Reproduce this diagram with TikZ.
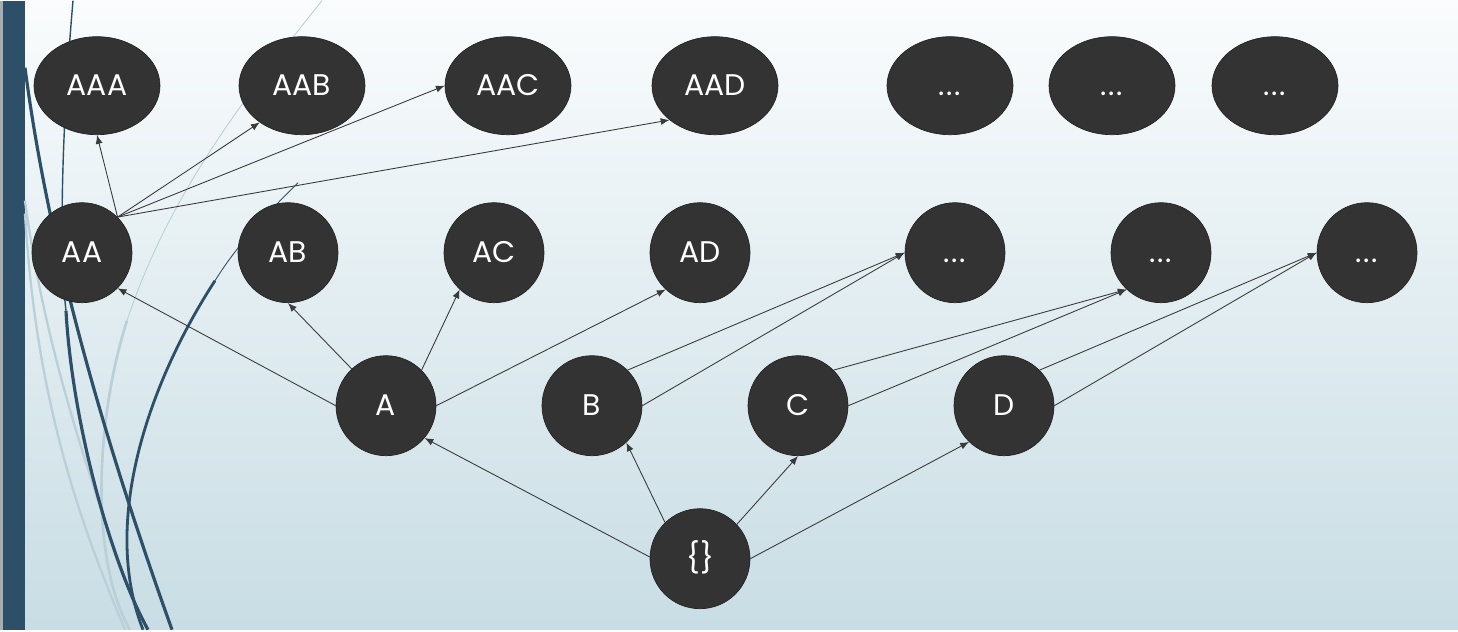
\documentclass[tikz,border=0pt]{standalone}
\usepackage{fontspec}
\setmainfont{Poppins}
\usepackage{xcolor}
\usetikzlibrary{arrows,arrows.meta,automata,shapes.geometric}
\definecolor{nodefill}{HTML}{333333}
\definecolor{nodeline}{HTML}{242424}
\definecolor{edgecol}{HTML}{3A3A3A}
\definecolor{wispdark}{HTML}{2D5068}
\definecolor{wisplight}{HTML}{BACFD7}
\definecolor{bgtop}{HTML}{FAFCFD}
\definecolor{bgbottom}{HTML}{C8DDE4}

\begin{document}
\begin{tikzpicture}[x=0.02cm,y=-0.02cm,
   every state/.style={draw=nodeline,fill=nodefill,text=white,thin,
     minimum size=2cm,inner sep=0pt,
     font=\fontsize{17}{19}\selectfont,text height=11.5pt,text depth=0pt},
   set state/.style={ellipse,minimum width=2.52cm,minimum height=1.96cm},
   link/.style={-{Latex[length=5pt,width=4pt]},draw=edgecol,line width=0.5pt}]
% background and the wisps on the left
\shade[top color=bgtop,bottom color=bgbottom] (0,0) rectangle (1458,629);
\fill[wisplight!60!gray] (0,0) rectangle (3,629);
\fill[wispdark] (3,0) rectangle (25,629);
\draw[wisplight,line width=1.3pt] (25,213) .. controls (35,380) and (70,500) .. (125,629);
\draw[wisplight,line width=1.3pt] (25,200) .. controls (45,350) and (90,480) .. (143,629);
\draw[wisplight,line width=0.5pt] (322,0) .. controls (250,90) and (170,190) .. (127,320);
\draw[wisplight,line width=1.5pt] (127,320) .. controls (95,420) and (90,560) .. (130,629);
\draw[wispdark,line width=0.8pt] (73,0) .. controls (60,150) and (60,260) .. (66,310);
\draw[wispdark,line width=1.8pt] (66,310) .. controls (72,420) and (110,560) .. (148,629);
\draw[wispdark,line width=1.8pt] (25,67) .. controls (45,220) and (90,400) .. (172,629);
\draw[wispdark,line width=0.5pt] (298,182) .. controls (270,210) and (240,240) .. (215,280);
\draw[wispdark,line width=1.6pt] (215,280) .. controls (150,380) and (100,520) .. (143,629);

% sets of three
\node[state,set state] (AAA) at (97,85) {AAA};
\node[state,set state] (AAB) at (302,85) {AAB};
\node[state,set state] (AAC) at (508,85) {AAC};
\node[state,set state] (AAD) at (715,85) {AAD};
\node[state,set state] (ABn) at (950,85) {.\kern1pt.\kern1pt.};
\node[state,set state] (ACn) at (1112,85) {.\kern1pt.\kern1pt.};
\node[state,set state] (ADn) at (1275,85) {.\kern1pt.\kern1pt.};
% sets of two
\node[state] (AA) at (82,252) {AA};
\node[state] (AB) at (288,252) {AB};
\node[state] (AC) at (494,252) {AC};
\node[state] (AD) at (700,252) {AD};
\node[state] (Bn) at (955,252) {.\kern1pt.\kern1pt.};
\node[state] (Cn) at (1161,252) {.\kern1pt.\kern1pt.};
\node[state] (Dn) at (1367,252) {.\kern1pt.\kern1pt.};
% sets of one
\node[state] (A) at (386,405) {A};
\node[state] (B) at (592,405) {B};
\node[state] (C) at (798,405) {C};
\node[state] (D) at (1004,405) {D};
\node[state] (root) at (700,558) {\{\}};

\draw[link] (root.178) -- (A.-40);
\draw[link] (root.134) -- (B.-47);
\draw[link] (root.43) -- (C.south);
\draw[link] (root.east) -- (D.-134);
\draw[link] (A.west) -- (AA.-45);
\draw[link] (A.133) -- (AB.south);
\draw[link] (A.45) -- (AC.-133);
\draw[link] (A.east) -- (AD.-133);
\draw[link] (B.45) -- (Bn.west);
\draw[link] (B.east) -- (Bn.west);
\draw[link] (C.45) -- (Cn.-133);
\draw[link] (C.east) -- (Cn.-133);
\draw[link] (D.45) -- (Dn.west);
\draw[link] (D.east) -- (Dn.west);
\draw[link] (AA.45) -- (AAA.south);
\draw[link] (AA.45) -- (AAB.-139);
\draw[link] (AA.45) -- (AAC.west);
\draw[link] (AA.45) -- (AAD.-143);
\end{tikzpicture}
\end{document}
